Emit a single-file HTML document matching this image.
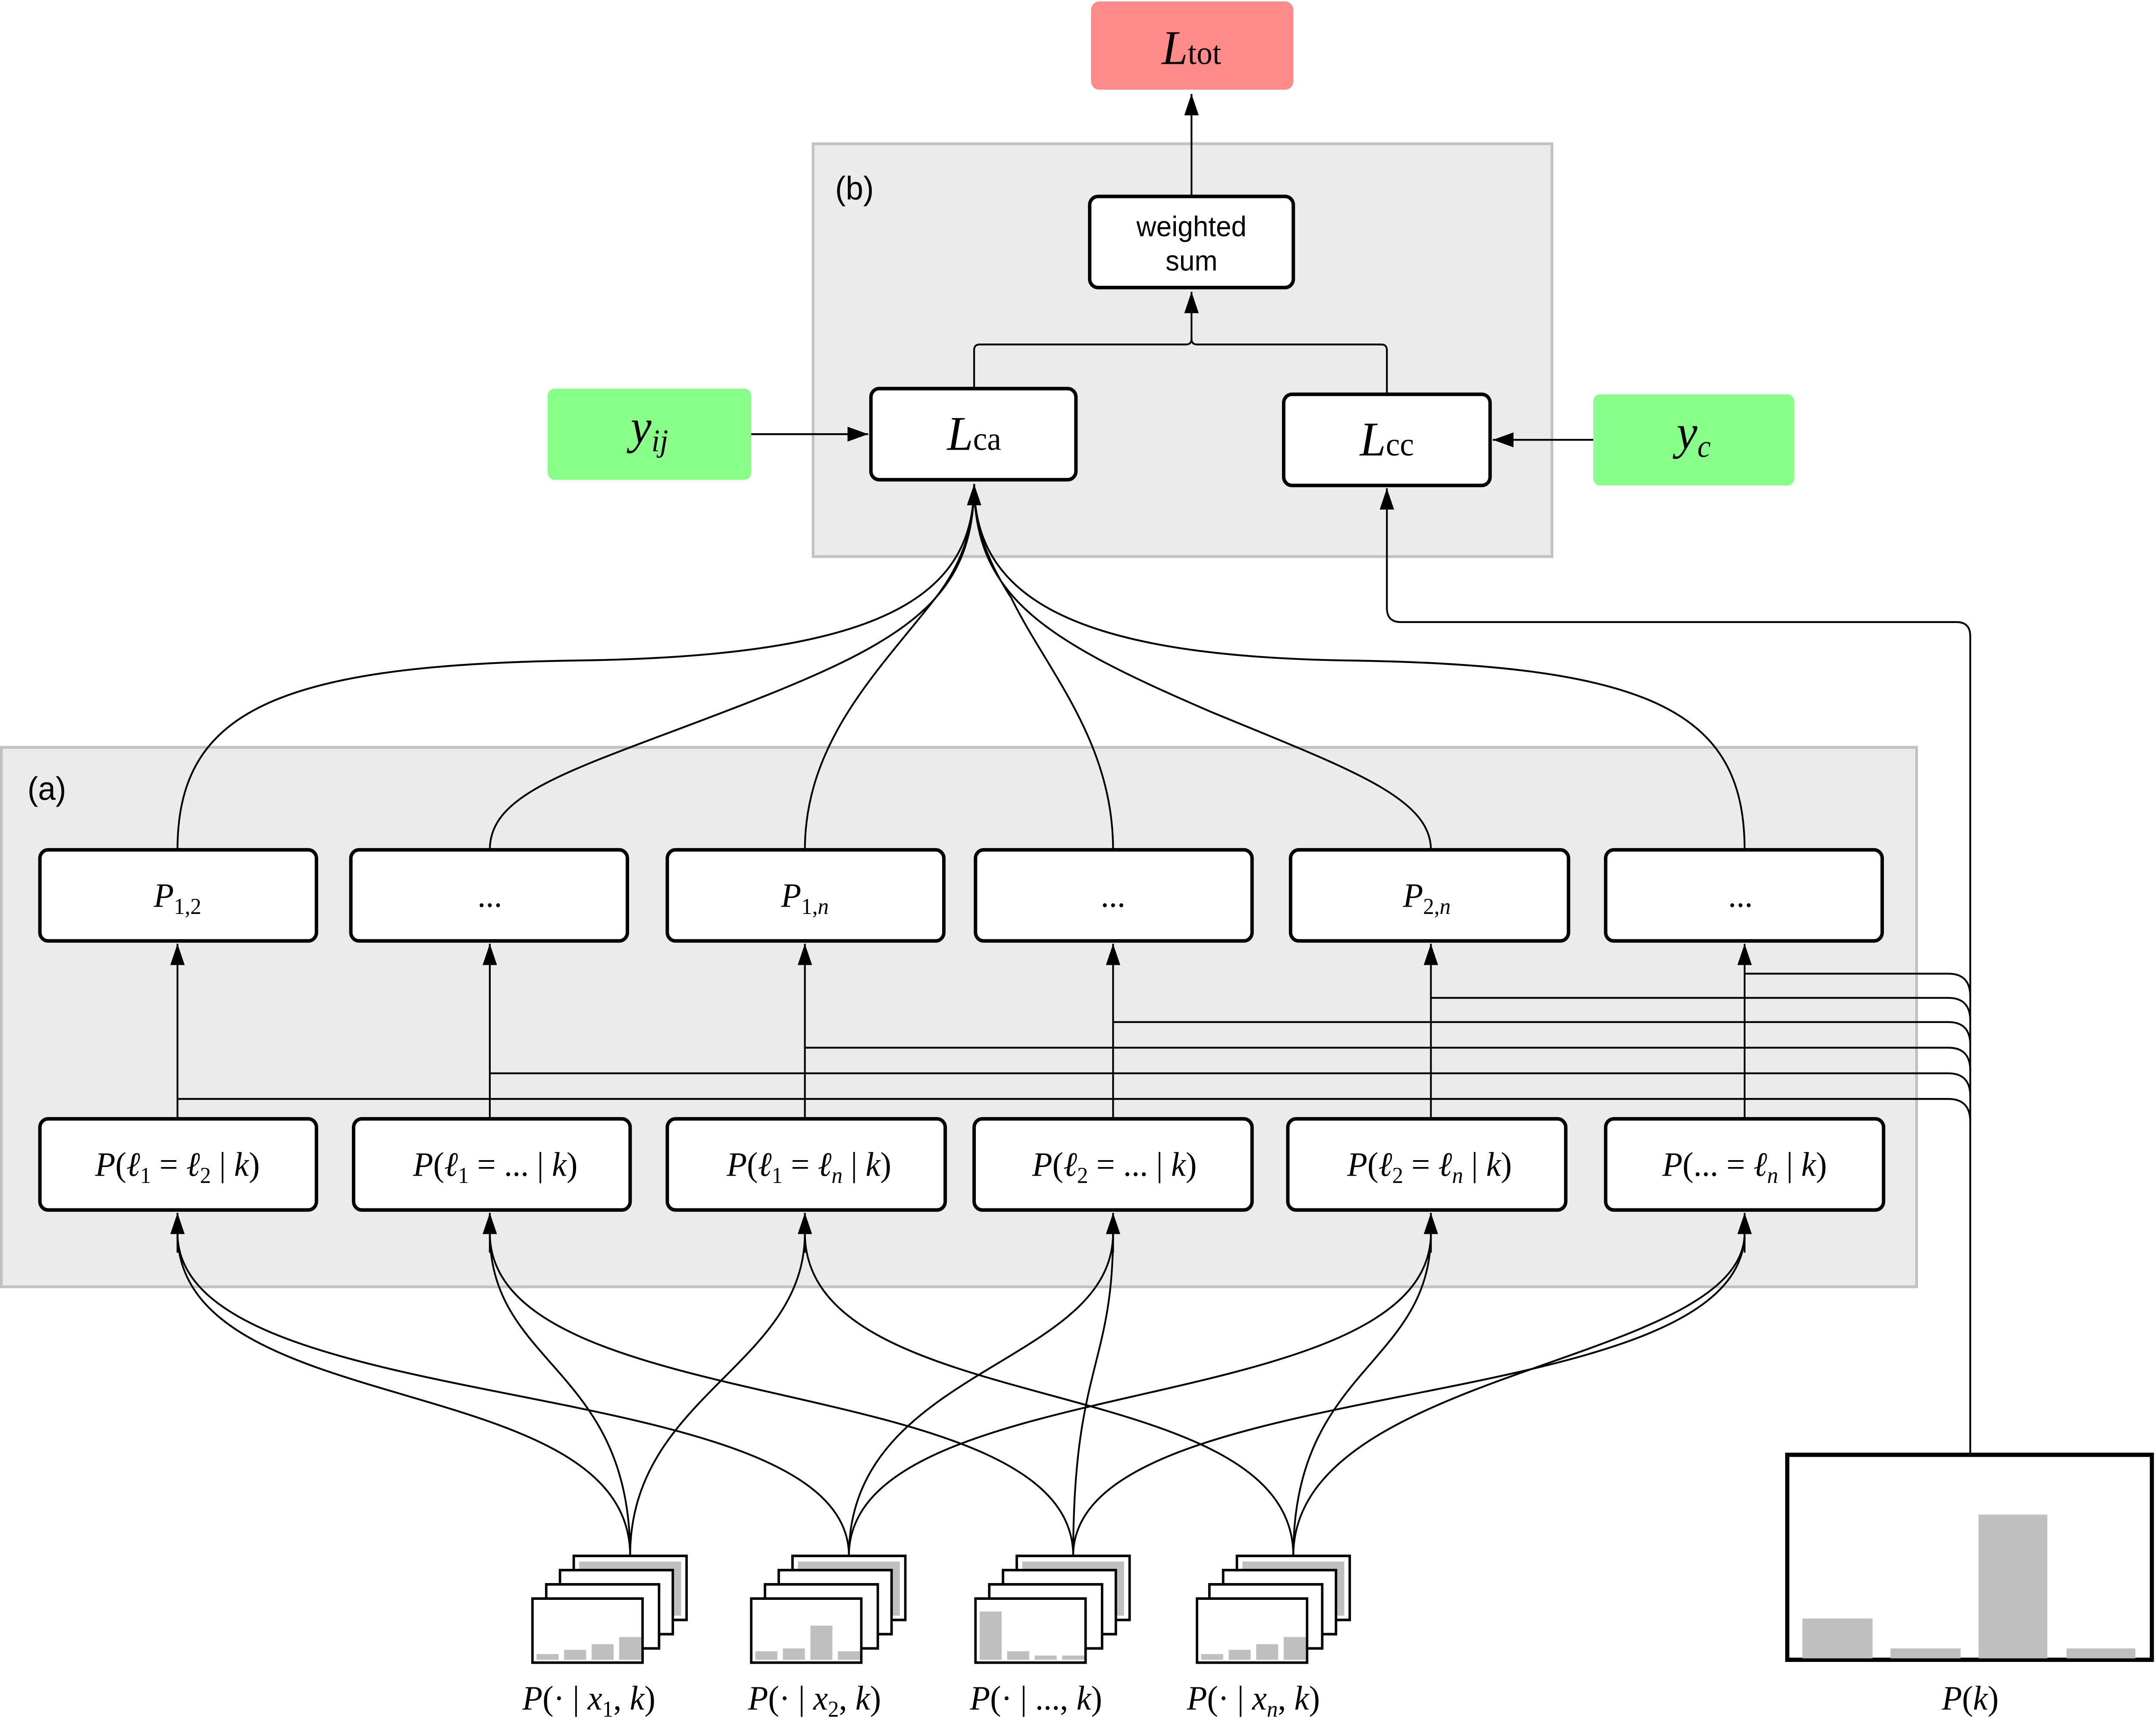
<!DOCTYPE html>
<html><head><meta charset="utf-8"><style>
html,body{margin:0;padding:0;background:#fff;overflow:hidden;width:100%;height:100%;}
svg{display:block;width:100vw;height:100vh;}
.m{font-family:"Liberation Serif",serif;font-style:italic;}
.s{font-family:"Liberation Sans",sans-serif;}
</style></head><body>
<svg viewBox="0 0 1567 1209" preserveAspectRatio="none" xmlns="http://www.w3.org/2000/svg">
<defs>
<marker id="a" viewBox="0 0 10 10" refX="10" refY="5" markerWidth="15" markerHeight="15" markerUnits="userSpaceOnUse" orient="auto"><path d="M0,1.5 L10,5 L0,8.5 z" fill="#000"/></marker>
</defs>
<rect width="1567" height="1209" fill="#fff"/>
<rect x="591" y="101" width="537" height="290" fill="#ebebeb" stroke="#c2c2c2" stroke-width="2"/>
<rect x="1" y="525" width="1392" height="379" fill="#ebebeb" stroke="#c2c2c2" stroke-width="2"/>
<text x="607" y="140" class="s" font-size="23">(b)</text>
<text x="20" y="562" class="s" font-size="23">(a)</text>

<g fill="none" stroke="#000" stroke-width="1.3">
<path d="M866 138 V66" marker-end="url(#a)"/>
<path d="M708 273 V246 Q708 242 712 242 H862 Q866 242 866 238 V205" marker-end="url(#a)"/>
<path d="M1008 277 V246 Q1008 242 1004 242 H870 Q866 242 866 238"/>
<path d="M546 305 H631" marker-end="url(#a)"/>
<path d="M1158 309 H1085" marker-end="url(#a)"/>
<path d="M1432 1022 V447 Q1432 437 1422 437 H1018 Q1008 437 1008 427 V343" marker-end="url(#a)"/>
<path d="M1268 684 H1416 Q1432 684 1432 700"/>
<path d="M1040 701 H1416 Q1432 701 1432 717"/>
<path d="M809 718 H1416 Q1432 718 1432 734"/>
<path d="M585 736 H1416 Q1432 736 1432 752"/>
<path d="M356 754 H1416 Q1432 754 1432 770"/>
<path d="M129 772 H1416 Q1432 772 1432 788"/>
<path d="M129 786 V663" marker-end="url(#a)"/>
<path d="M356 786 V663" marker-end="url(#a)"/>
<path d="M585 786 V663" marker-end="url(#a)"/>
<path d="M809 786 V663" marker-end="url(#a)"/>
<path d="M1040 786 V663" marker-end="url(#a)"/>
<path d="M1268 786 V663" marker-end="url(#a)"/>
<path d="M129 597 C129 500, 200 467, 420 464 C640 461, 708 420, 708 340"/>
<path d="M356 597 C356 555, 420 540, 540 495 C660 450, 708 420, 708 340"/>
<path d="M585 597 C585 520, 640 470, 680 420 C700 395, 708 370, 708 340" marker-end="url(#a)"/>
<path d="M809 597 C809 520, 760 470, 735 420 C718 395, 708 370, 708 340"/>
<path d="M1040 597 C1040 560, 980 540, 880 500 C760 450, 708 420, 708 340" />
<path d="M1268 597 C1268 500, 1200 467, 980 464 C780 461, 708 420, 708 340"/>
<path d="M458 1093 C458 960, 129 1000, 129 866"/>
<path d="M458 1093 C458 960, 356 960, 356 866"/>
<path d="M458 1093 C458 980, 585 960, 585 866"/>
<path d="M617 1093 C617 960, 129 1000, 129 866"/>
<path d="M617 1093 C617 960, 809 960, 809 866"/>
<path d="M617 1093 C617 960, 1040 1000, 1040 866"/>
<path d="M780 1093 C780 960, 356 1000, 356 866"/>
<path d="M780 1093 C780 960, 809 960, 809 866"/>
<path d="M780 1093 C780 960, 1268 1000, 1268 866"/>
<path d="M940 1093 C940 960, 585 1000, 585 866"/>
<path d="M940 1093 C940 960, 1040 960, 1040 866"/>
<path d="M940 1093 C940 960, 1268 960, 1268 866"/>
<path d="M129 880 V852" marker-end="url(#a)"/>
<path d="M356 880 V852" marker-end="url(#a)"/>
<path d="M585 880 V852" marker-end="url(#a)"/>
<path d="M809 880 V852" marker-end="url(#a)"/>
<path d="M1040 880 V852" marker-end="url(#a)"/>
<path d="M1268 880 V852" marker-end="url(#a)"/>
</g>

<rect x="793" y="1" width="147" height="62" rx="6" fill="#ff8a8a"/>
<text x="866" y="45" text-anchor="middle" font-size="34" class="m">L<tspan font-style="normal" font-size="23">tot</tspan></text>
<g fill="#fff" stroke="#000" stroke-width="2.5">
<rect x="792" y="138" width="148" height="64" rx="6"/>
<rect x="633" y="273" width="149" height="64" rx="6"/>
<rect x="933" y="277" width="150" height="64" rx="6"/>
<rect x="29" y="597" width="201" height="64" rx="6"/>
<rect x="255" y="597" width="201" height="64" rx="6"/>
<rect x="485" y="597" width="201" height="64" rx="6"/>
<rect x="709" y="597" width="201" height="64" rx="6"/>
<rect x="938" y="597" width="202" height="64" rx="6"/>
<rect x="1167" y="597" width="201" height="64" rx="6"/>
<rect x="29" y="786" width="201" height="64" rx="6"/>
<rect x="257" y="786" width="201" height="64" rx="6"/>
<rect x="485" y="786" width="202" height="64" rx="6"/>
<rect x="708" y="786" width="202" height="64" rx="6"/>
<rect x="936" y="786" width="202" height="64" rx="6"/>
<rect x="1167" y="786" width="202" height="64" rx="6"/>
</g>
<rect x="398" y="273" width="148" height="64" rx="5" fill="#88ff88"/>
<rect x="1158" y="277" width="146" height="64" rx="5" fill="#88ff88"/>
<text x="866" y="166" text-anchor="middle" class="s" font-size="20">weighted</text>
<text x="866" y="190" text-anchor="middle" class="s" font-size="20">sum</text>
<g class="m" text-anchor="middle">
<text x="708" y="316" font-size="34">L<tspan font-style="normal" font-size="23">ca</tspan></text>
<text x="1008" y="320" font-size="34">L<tspan font-style="normal" font-size="23">cc</tspan></text>
<text x="472" y="311" font-size="34">y<tspan font-size="22" dy="6">ij</tspan></text>
<text x="1231" y="315" font-size="34">y<tspan font-size="22" dy="6">c</tspan></text>
<g font-size="24">
<text x="129" y="637">P<tspan font-style="normal" font-size="16" dy="5">1,2</tspan></text>
<text x="356" y="637" font-style="normal">...</text>
<text x="585" y="637">P<tspan font-size="16" dy="5"><tspan font-style="normal">1,</tspan>n</tspan></text>
<text x="809" y="637" font-style="normal">...</text>
<text x="1037" y="637">P<tspan font-size="16" dy="5"><tspan font-style="normal">2,</tspan>n</tspan></text>
<text x="1265" y="637" font-style="normal">...</text>
<text x="129" y="826">P<tspan font-style="normal">(</tspan>ℓ<tspan font-style="normal" font-size="16" dy="5">1</tspan><tspan font-style="normal" dy="-5"> = </tspan>ℓ<tspan font-style="normal" font-size="16" dy="5">2</tspan><tspan font-style="normal" dy="-5"> | </tspan>k<tspan font-style="normal">)</tspan></text>
<text x="360" y="826">P<tspan font-style="normal">(</tspan>ℓ<tspan font-style="normal" font-size="16" dy="5">1</tspan><tspan font-style="normal" dy="-5"> = ... | </tspan>k<tspan font-style="normal">)</tspan></text>
<text x="588" y="826">P<tspan font-style="normal">(</tspan>ℓ<tspan font-style="normal" font-size="16" dy="5">1</tspan><tspan font-style="normal" dy="-5"> = </tspan>ℓ<tspan font-size="16" dy="5">n</tspan><tspan font-style="normal" dy="-5"> | </tspan>k<tspan font-style="normal">)</tspan></text>
<text x="810" y="826">P<tspan font-style="normal">(</tspan>ℓ<tspan font-style="normal" font-size="16" dy="5">2</tspan><tspan font-style="normal" dy="-5"> = ... | </tspan>k<tspan font-style="normal">)</tspan></text>
<text x="1039" y="826">P<tspan font-style="normal">(</tspan>ℓ<tspan font-style="normal" font-size="16" dy="5">2</tspan><tspan font-style="normal" dy="-5"> = </tspan>ℓ<tspan font-size="16" dy="5">n</tspan><tspan font-style="normal" dy="-5"> | </tspan>k<tspan font-style="normal">)</tspan></text>
<text x="1268" y="826">P<tspan font-style="normal">(... = </tspan>ℓ<tspan font-size="16" dy="5">n</tspan><tspan font-style="normal" dy="-5"> | </tspan>k<tspan font-style="normal">)</tspan></text>
<text x="428" y="1201">P<tspan font-style="normal">(· | </tspan>x<tspan font-style="normal" font-size="16" dy="5">1</tspan><tspan font-style="normal" dy="-5">, </tspan>k<tspan font-style="normal">)</tspan></text>
<text x="592" y="1201">P<tspan font-style="normal">(· | </tspan>x<tspan font-style="normal" font-size="16" dy="5">2</tspan><tspan font-style="normal" dy="-5">, </tspan>k<tspan font-style="normal">)</tspan></text>
<text x="753" y="1201">P<tspan font-style="normal">(· | ..., </tspan>k<tspan font-style="normal">)</tspan></text>
<text x="911" y="1201">P<tspan font-style="normal">(· | </tspan>x<tspan font-size="16" dy="5">n</tspan><tspan font-style="normal" dy="-5">, </tspan>k<tspan font-style="normal">)</tspan></text>
<text x="1432" y="1201">P<tspan font-style="normal">(</tspan>k<tspan font-style="normal">)</tspan></text>
</g>
</g>

<g>
<g stroke="#000" stroke-width="1.8">
<rect x="417" y="1093" width="82" height="45" fill="#fff"/>
<rect x="421" y="1097" width="74" height="38" fill="#bfbfbf" stroke="none"/>
<rect x="407" y="1103" width="82" height="45" fill="#fff"/>
<rect x="397" y="1113" width="82" height="45" fill="#fff"/>
<rect x="387" y="1123" width="80" height="45" fill="#fff"/>
</g>
<g fill="#bfbfbf"><rect x="390" y="1162" width="16" height="4"/><rect x="410" y="1159" width="16" height="7"/><rect x="430" y="1155" width="16" height="11"/><rect x="450" y="1150" width="16" height="16"/></g>
</g>
<g>
<g stroke="#000" stroke-width="1.8">
<rect x="576" y="1093" width="82" height="45" fill="#fff"/>
<rect x="580" y="1097" width="74" height="38" fill="#bfbfbf" stroke="none"/>
<rect x="566" y="1103" width="82" height="45" fill="#fff"/>
<rect x="556" y="1113" width="82" height="45" fill="#fff"/>
<rect x="546" y="1123" width="80" height="45" fill="#fff"/>
</g>
<g fill="#bfbfbf"><rect x="549" y="1160" width="16" height="6"/><rect x="569" y="1158" width="16" height="8"/><rect x="589" y="1142" width="16" height="24"/><rect x="609" y="1160" width="16" height="6"/></g>
</g>
<g>
<g stroke="#000" stroke-width="1.8">
<rect x="739" y="1093" width="82" height="45" fill="#fff"/>
<rect x="743" y="1097" width="74" height="38" fill="#bfbfbf" stroke="none"/>
<rect x="729" y="1103" width="82" height="45" fill="#fff"/>
<rect x="719" y="1113" width="82" height="45" fill="#fff"/>
<rect x="709" y="1123" width="80" height="45" fill="#fff"/>
</g>
<g fill="#bfbfbf"><rect x="712" y="1132" width="16" height="34"/><rect x="732" y="1160" width="16" height="6"/><rect x="752" y="1163" width="16" height="3"/><rect x="772" y="1163" width="16" height="3"/></g>
</g>
<g>
<g stroke="#000" stroke-width="1.8">
<rect x="899" y="1093" width="82" height="45" fill="#fff"/>
<rect x="903" y="1097" width="74" height="38" fill="#bfbfbf" stroke="none"/>
<rect x="889" y="1103" width="82" height="45" fill="#fff"/>
<rect x="879" y="1113" width="82" height="45" fill="#fff"/>
<rect x="870" y="1123" width="80" height="45" fill="#fff"/>
</g>
<g fill="#bfbfbf"><rect x="873" y="1162" width="16" height="4"/><rect x="893" y="1159" width="16" height="7"/><rect x="913" y="1155" width="16" height="11"/><rect x="933" y="1150" width="16" height="16"/></g>
</g>

<rect x="1299" y="1022" width="265" height="144" fill="#fff" stroke="#000" stroke-width="3"/>
<g fill="#bfbfbf"><rect x="1310" y="1137" width="51" height="28"/><rect x="1374" y="1158" width="51" height="7"/><rect x="1438" y="1064" width="50" height="101"/><rect x="1502" y="1158" width="50" height="7"/></g>
</svg>
</body></html>
